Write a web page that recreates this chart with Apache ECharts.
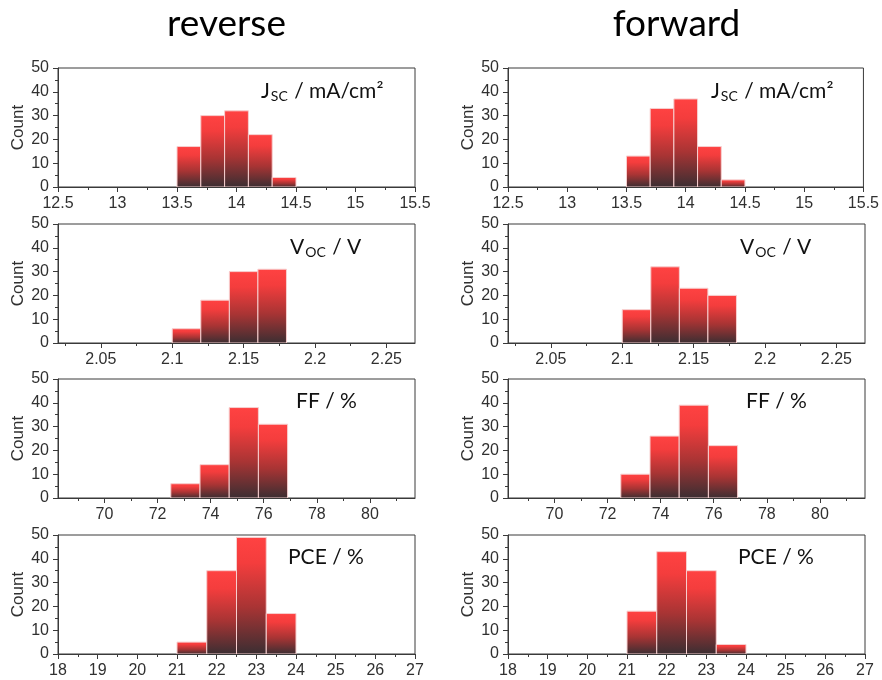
<!DOCTYPE html>
<html>
<head>
<meta charset="utf-8">
<script src="https://cdn.jsdelivr.net/npm/echarts@6/dist/echarts.min.js"></script>
<style>
  html, body { margin: 0; padding: 0; background: #ffffff; }
  #chart { width: 882px; height: 680px; }
</style>
</head>
<body>
<div id="chart"></div>
<script>
// Histogram bin edges for each photovoltaic parameter
const jscEdges = [13.5, 13.7, 13.9, 14.1, 14.3, 14.5];
const vocEdges = [2.10, 2.12, 2.14, 2.16, 2.18];
const ffEdges  = [72.5, 73.6, 74.7, 75.8, 76.9];
const pceEdges = [21.0, 21.75, 22.5, 23.25, 24.0];

// Device counts per bin: reverse scan and forward scan
const jscReverse = [17, 30, 32, 22, 4];
const jscForward = [13, 33, 37, 17, 3];
const vocReverse = [6, 18, 30, 31];
const vocForward = [14, 32, 23, 20];
const ffReverse  = [6, 14, 38, 31];
const ffForward  = [10, 26, 39, 22];
const pceReverse = [5, 35, 49, 17];
const pceForward = [18, 43, 35, 4];

// x-axis ranges, labelled ticks and minor ticks
const jscRange = [12.5, 15.5];
const jscTicks = [12.5, 13, 13.5, 14, 14.5, 15, 15.5];
const jscMinor = [12.75, 13.25, 13.75, 14.25, 14.75, 15.25];
const vocRange = [2.02, 2.27];
const vocTicks = [2.05, 2.1, 2.15, 2.2, 2.25];
const vocMinor = [2.025, 2.075, 2.125, 2.175, 2.225];
const ffRange  = [68.25, 81.7];
const ffTicks  = [70, 72, 74, 76, 78, 80];
const ffMinor  = [69, 71, 73, 75, 77, 79, 81];
const pceRange = [18, 27];
const pceTicks = [18, 19, 20, 21, 22, 23, 24, 25, 26, 27];
const pceMinor = [18.5, 19.5, 20.5, 21.5, 22.5, 23.5, 24.5, 25.5, 26.5];

// Count axis
const countMax = 50;
const countStep = 10;

const columnTitles = ['reverse', 'forward'];

const params = [
  { edges: jscEdges, counts: [jscReverse, jscForward], range: jscRange, ticks: jscTicks, minor: jscMinor,
    label: '{m|J}{s|SC}{m| / mA/cm²}', dx: 203 },
  { edges: vocEdges, counts: [vocReverse, vocForward], range: vocRange, ticks: vocTicks, minor: vocMinor,
    label: '{m|V}{s|OC}{m| / V}', dx: 232 },
  { edges: ffEdges, counts: [ffReverse, ffForward], range: ffRange, ticks: ffTicks, minor: ffMinor,
    label: '{m|FF / %}', dx: 238 },
  { edges: pceEdges, counts: [pceReverse, pceForward], range: pceRange, ticks: pceTicks, minor: pceMinor,
    label: '{m|PCE / %}', dx: 230 }
];

// Panel geometry
const colLeft = [58, 508];
const plotWidth = 357;
const rowTop = [68, 224, 379, 535];
const plotHeight = 119;

const axisColor = '#3a3a3a';
const labelColor = '#303030';
const tickFont = '"Liberation Sans", Arial, sans-serif';
const textFont = 'Lato, "Open Sans", sans-serif';

const barFill = new echarts.graphic.LinearGradient(0, 0, 0, 1, [
  { offset: 0, color: '#ff4242' },
  { offset: 0.22, color: '#f43d3d' },
  { offset: 0.6, color: '#a83434' },
  { offset: 1, color: '#3a2e32' }
]);

const grids = [], xAxes = [], yAxes = [], series = [], graphics = [];

params.forEach(function (p, row) {
  [0, 1].forEach(function (col) {
    const g = grids.length;
    grids.push({
      left: colLeft[col], top: rowTop[row], width: plotWidth, height: plotHeight,
      show: true, borderColor: axisColor, borderWidth: 1, backgroundColor: '#fff'
    });
    // labelled axis with major ticks
    xAxes.push({
      gridIndex: g, type: 'value', position: 'bottom', min: p.range[0], max: p.range[1], z: 5,
      axisLine: { show: true, onZero: false, lineStyle: { color: axisColor, width: 1 } },
      axisTick: { show: true, inside: false, length: 5, customValues: p.ticks, lineStyle: { color: axisColor } },
      axisLabel: { show: true, customValues: p.ticks, margin: 9, fontSize: 16, color: labelColor, fontFamily: tickFont },
      splitLine: { show: false }
    });
    // minor ticks
    xAxes.push({
      gridIndex: g, type: 'value', position: 'bottom', min: p.range[0], max: p.range[1], z: 5,
      axisLine: { show: false, onZero: false },
      axisTick: { show: true, inside: false, length: 3, customValues: p.minor, lineStyle: { color: axisColor } },
      axisLabel: { show: false },
      splitLine: { show: false }
    });
    yAxes.push({
      gridIndex: g, type: 'value', min: 0, max: countMax, interval: countStep, z: 5,
      name: 'Count', nameLocation: 'middle', nameGap: 31,
      nameTextStyle: { fontSize: 17, color: labelColor, fontFamily: tickFont },
      axisLine: { show: true, lineStyle: { color: axisColor, width: 1 } },
      axisTick: { show: true, inside: false, length: 5, lineStyle: { color: axisColor } },
      minorTick: { show: true, splitNumber: 2, length: 3, lineStyle: { color: axisColor } },
      axisLabel: { margin: 9, fontSize: 16, color: labelColor, fontFamily: tickFont },
      splitLine: { show: false }, minorSplitLine: { show: false }
    });
    const data = p.counts[col].map(function (c, i) { return [p.edges[i], p.edges[i + 1], c]; });
    series.push({
      type: 'custom', xAxisIndex: g * 2, yAxisIndex: g, z: 3,
      encode: { x: [0, 1], y: 2 },
      data: data,
      renderItem: function (params, api) {
        const topLeft = api.coord([api.value(0), api.value(2)]);
        const bottomRight = api.coord([api.value(1), 0]);
        return {
          type: 'rect',
          shape: { x: topLeft[0], y: topLeft[1], width: bottomRight[0] - topLeft[0], height: bottomRight[1] - topLeft[1] },
          style: { fill: barFill, stroke: '#f7cfcf', lineWidth: 1 }
        };
      }
    });
    graphics.push({
      type: 'text', left: colLeft[col] + p.dx, top: rowTop[row] + 12, z: 10,
      style: {
        text: p.label, fill: '#111',
        rich: {
          m: { fontSize: 21, fontFamily: textFont, fill: '#111', verticalAlign: 'middle', lineHeight: 26 },
          s: { fontSize: 14, fontFamily: textFont, fill: '#111', verticalAlign: 'middle', lineHeight: 26, padding: [9, 1, 0, 1] }
        }
      }
    });
  });
});

columnTitles.forEach(function (t, col) {
  graphics.push({
    type: 'text', x: colLeft[col] + plotWidth / 2 - 10, y: 24, z: 10,
    style: { text: t, fill: '#000', font: '37px ' + textFont, textAlign: 'center', textVerticalAlign: 'middle' }
  });
});

const chart = echarts.init(document.getElementById('chart'), null, { renderer: 'canvas' });
chart.setOption({
  animation: false,
  backgroundColor: '#ffffff',
  grid: grids,
  xAxis: xAxes,
  yAxis: yAxes,
  series: series,
  graphic: graphics
});
</script>
</body>
</html>
